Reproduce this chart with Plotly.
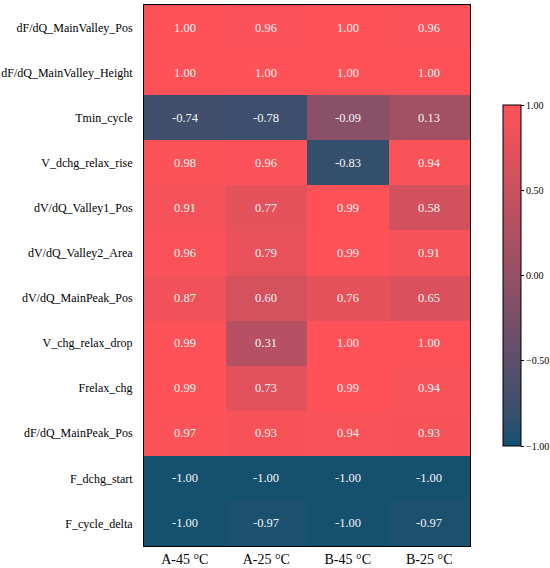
import plotly.graph_objects as go

features = [
    "dF/dQ_MainValley_Pos",
    "dF/dQ_MainValley_Height",
    "Tmin_cycle",
    "V_dchg_relax_rise",
    "dV/dQ_Valley1_Pos",
    "dV/dQ_Valley2_Area",
    "dV/dQ_MainPeak_Pos",
    "V_chg_relax_drop",
    "Frelax_chg",
    "dF/dQ_MainPeak_Pos",
    "F_dchg_start",
    "F_cycle_delta",
]
conditions = ["A-45 °C", "A-25 °C", "B-45 °C", "B-25 °C"]

a45 = [1.00, 1.00, -0.74, 0.98, 0.91, 0.96, 0.87, 0.99, 0.99, 0.97, -1.00, -1.00]
a25 = [0.96, 1.00, -0.78, 0.96, 0.77, 0.79, 0.60, 0.31, 0.73, 0.93, -1.00, -0.97]
b45 = [1.00, 1.00, -0.09, -0.83, 0.99, 0.99, 0.76, 1.00, 0.99, 0.94, -1.00, -1.00]
b25 = [0.96, 1.00, 0.13, 0.94, 0.58, 0.91, 0.65, 1.00, 0.94, 0.93, -1.00, -0.97]

cbar_ticks = [-1.0, -0.5, 0.0, 0.5, 1.0]

z = [list(r) for r in zip(a45, a25, b45, b25)]
text = [[f"{v:.2f}" for v in row] for row in z]

colorscale = [
    [0.0, "#15506F"],
    [0.1, "#3A4F6C"],
    [0.5, "#945066"],
    [1.0, "#FF5258"],
]

fig = go.Figure(
    go.Heatmap(
        z=z,
        x=conditions,
        y=features,
        text=text,
        texttemplate="%{text}",
        textfont=dict(family="Liberation Serif", size=12.5, color="#F4F4F4"),
        colorscale=colorscale,
        zmin=-1,
        zmax=1,
        colorbar=dict(
            x=1.101,
            xanchor="left",
            xpad=0,
            y=0.5,
            yanchor="middle",
            ypad=0,
            thickness=18,
            len=341,
            lenmode="pixels",
            outlinewidth=1,
            outlinecolor="black",
            tickvals=cbar_ticks,
            tickformat=".2f",
            ticks="outside",
            ticklen=3,
            tickwidth=1,
            tickcolor="black",
            tickfont=dict(family="Liberation Serif", size=10, color="black"),
        ),
    )
)

fig.update_layout(
    width=550,
    height=568,
    margin=dict(l=144, r=80, t=5, b=22, autoexpand=False),
    paper_bgcolor="white",
    plot_bgcolor="white",
    font=dict(family="Liberation Serif", color="black"),
)
fig.update_xaxes(
    showline=True,
    mirror=True,
    linecolor="black",
    linewidth=1,
    ticks="",
    tickfont=dict(family="Liberation Serif", size=14, color="black"),
    ticklabelstandoff=0,
    showgrid=False,
    zeroline=False,
    automargin=False,
)
fig.update_yaxes(
    autorange="reversed",
    showline=True,
    mirror=True,
    linecolor="black",
    linewidth=1,
    ticks="",
    tickfont=dict(family="Liberation Serif", size=12, color="black"),
    ticklabelstandoff=8,
    showgrid=False,
    zeroline=False,
    automargin=False,
)

fig.write_html(
    "out.html",
    config={"displayModeBar": False},
    post_script="document.body.style.margin='0';document.body.style.overflow='hidden';",
)
